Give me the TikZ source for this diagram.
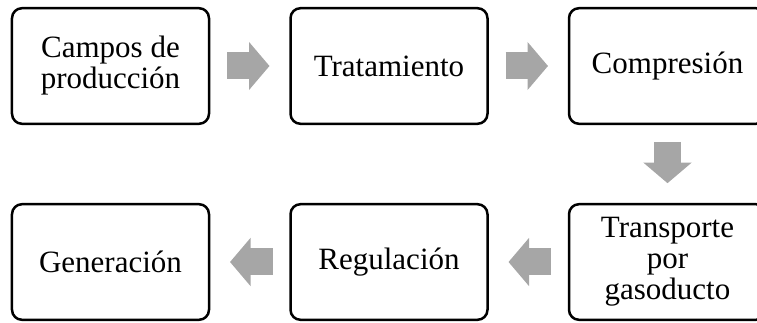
\documentclass[tikz,border=0pt]{standalone}
\usepackage{fontspec}
\setmainfont{Liberation Serif}
\usetikzlibrary{arrows.meta}
\usetikzlibrary{chains}
\usetikzlibrary{positioning}
\tikzset{
	caja/.style={
		rectangle, 
		rounded corners=10pt, 
		draw=black, line width=2.5pt,
		minimum width=197pt, 
		minimum height=115.6pt, 
		outer sep=0pt,
		align=center, 
		on chain},
	flecha/.style={draw=black!35, line width=27pt,
		-{Triangle[length=20.5pt,width=47pt]},
		shorten <=18pt, shorten >=21pt},
	every join/.style={flecha},
}
\begin{document}
\begin{tikzpicture}
			[node distance=80.4pt and 81.5pt,
			start chain=going right,font=\fontsize{31}{31}\selectfont]
			\useasboundingbox (-110.5pt,66pt) rectangle (646.5pt,-257pt);
			\node[caja] (campos) {Campos de\\producción};
			\node[caja, join] (tratamiento) {Tratamiento};
			\node[caja, join] (compresion) {Compresión};
			\node[continue chain=going below, caja, join] (transporte) {Transporte\\por\\gasoducto};
			\node[continue chain=going left, caja, join] (regulacion) {Regulación};
			\node[caja, join] (generacion) {Generación};
			
			\end{tikzpicture}
\end{document}
